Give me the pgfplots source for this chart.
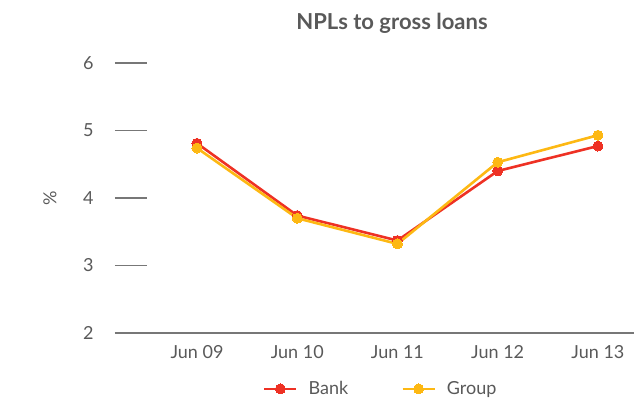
\documentclass[border=0pt]{standalone}
\usepackage{pgfplots}
\pgfplotsset{compat=1.18}
\usepackage{pgfplotstable}
\usepackage{fontspec}
\setmainfont{Lato}
\definecolor{bankred}{HTML}{EE3124}
\definecolor{grouporange}{HTML}{FDB813}
\definecolor{txt}{HTML}{595959}
\definecolor{axgray}{HTML}{777777}
\pgfplotstableread{
x y
0 4.81
1 3.74
2 3.37
3 4.40
4 4.77
}\bank
\pgfplotstableread{
x y
0 4.74
1 3.70
2 3.32
3 4.53
4 4.93
}\group
\begin{document}
\begin{tikzpicture}
\path[use as bounding box] (-115pt,-65pt) rectangle (519pt,333pt);
\begin{axis}[
  at={(0pt,0pt)}, anchor=south west,
  scale only axis, width=519pt, height=270pt,
  xmin=-0.818, xmax=4.36, ymin=2, ymax=6,
  axis x line*=bottom, axis y line*=left,
  x axis line style={draw=axgray, line width=1.3pt, -},
  y axis line style={draw=none},
  xtick={0,1,2,3,4},
  xticklabels={Jun 09,Jun 10,Jun 11,Jun 12,Jun 13},
  ytick={2,3,4,5,6},
  xtick style={draw=none},
  ytick style={draw=axgray, line width=1.3pt},
  major tick length=32pt, tick align=inside,
  /pgf/number format/assume math mode=true,
  ticklabel style={font=\fontsize{18}{21}\selectfont, text=txt},
  xticklabel style={yshift=-9pt},
  yticklabel style={xshift=-18pt},
  ylabel={\%},
  ylabel style={at={(axis description cs:-0.106,0.5)}, font=\fontsize{18}{21}\selectfont, text=txt},
  legend columns=2,
  legend style={draw=none, fill=none, at={(axis description cs:0.511,-0.207)}, anchor=center,
    font=\fontsize{18}{21}\selectfont, text=txt, inner sep=0pt,
    nodes={inner sep=1pt},
    /tikz/every odd column/.append style={column sep=10pt},
    /tikz/every even column/.append style={column sep=52pt}},
  legend image code/.code={\draw[mark repeat=2, mark phase=2, #1] plot coordinates {(0pt,0pt) (16pt,0pt) (32pt,0pt)};},
  clip=false,
]
\addplot[color=bankred, line width=2.6pt, mark=*, mark size=5pt, mark options={fill=bankred, draw=bankred, line width=0pt}] table[x=x,y=y] {\bank};
\addlegendentry{Bank}
\addplot[color=grouporange, line width=2.6pt, mark=*, mark size=5pt, mark options={fill=grouporange, draw=grouporange, line width=0pt}] table[x=x,y=y] {\group};
\addlegendentry{Group}
\end{axis}
\node[font=\fontsize{22}{26}\selectfont\bfseries, text=txt] at (277pt,310pt) {NPLs to gross loans};
\end{tikzpicture}
\end{document}
